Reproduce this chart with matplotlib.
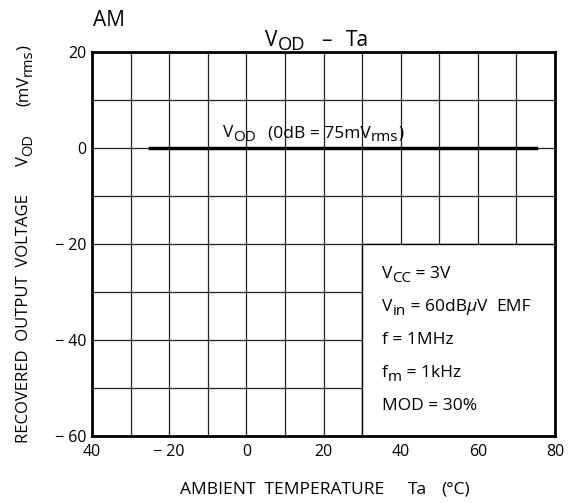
import matplotlib
matplotlib.use("Agg")
import matplotlib.pyplot as plt
from matplotlib.patches import Rectangle
from matplotlib.transforms import IdentityTransform

plt.rcParams['font.family'] = ['Open Sans', 'DejaVu Sans']

# data
temp = [-25, 75]
vod = [0, 0]
x_ticks = [-40, -20, 0, 20, 40, 60, 80]
x_tick_labels = ["40", "\u2212 20", "0", "20", "40", "60", "80"]
y_ticks = [20, 0, -20, -40, -60]
y_tick_labels = ["20", "0", "\u2212 20", "\u2212 40", "\u2212 60"]
# condition lines: (text, subscript?) pieces, numbers are gaps in px
conditions = [
    [("V", 0), ("CC", 1), (" = 3V", 0)],
    [("V", 0), ("in", 1), (" = 60dB", 0), ("\u03bc", 0, 'italic'), ("V", 0), 9, ("EMF", 0)],
    [("f = 1MHz", 0)],
    [("f", 0), ("m", 1), (" = 1kHz", 0)],
    [("MOD = 30%", 0)],
]
cond_base = [278, 311, 344, 377, 410]

W, H = 573, 503
fig = plt.figure(figsize=(W / 100, H / 100), dpi=100)
ax = fig.add_axes([92/W, 1-436/H, (555-92)/W, (436-52)/H])
renderer = fig.canvas.get_renderer()


def rich(px, py, parts, fs, rot=0, sub_scale=0.88, sub_drop=4):
    # px, py = start of baseline in image pixels (origin top-left)
    pos = 0.0
    for p in parts:
        if isinstance(p, (int, float)):
            pos += p
            continue
        s, sub = p[0], p[1]
        style = p[2] if len(p) > 2 else 'normal'
        size = fs * sub_scale if sub else fs
        drop = sub_drop if sub else 0
        if rot == 0:
            x, y = px + pos, H - py - drop
        else:
            x, y = px + drop, H - py + pos
        t = fig.text(x, y, s, fontsize=size, fontstyle=style, rotation=rot,
                     rotation_mode='anchor', ha='left', va='baseline',
                     transform=IdentityTransform(), zorder=5)
        bb = t.get_window_extent(renderer)
        pos += bb.width if rot == 0 else bb.height
    return pos


ax.set_xlim(-40, 80)
ax.set_ylim(-60, 20)
ax.set_xticks(range(-40, 81, 10), minor=True)
ax.set_yticks(range(-60, 21, 10), minor=True)
ax.set_xticks(x_ticks)
ax.set_xticklabels(x_tick_labels, fontsize=11.5)
ax.set_yticks(y_ticks)
ax.set_yticklabels(y_tick_labels, fontsize=11.5)
ax.tick_params(which='both', length=0)
ax.tick_params(axis='x', pad=5.5)
ax.tick_params(axis='y', pad=4)
ax.grid(which='both', color='#222222', linewidth=0.9)
ax.set_axisbelow(True)
for s in ax.spines.values():
    s.set_linewidth(2)

# condition box hides the grid
ax.add_patch(Rectangle((30, -60), 50, 40, facecolor='white', edgecolor='black',
                       linewidth=1.0, zorder=2))

ax.plot(temp, vod, color='black', linewidth=2.5, zorder=3)

rich(223, 137, [("V", 0), ("OD", 1), 12, ("(0dB = 75mV", 0), ("rms", 1), (")", 0)], 12.5)
for parts, yb in zip(conditions, cond_base):
    rich(382, yb, parts, 12.5)

rich(93, 26, [("AM", 0)], 15)
rich(265, 46, [("V", 0), ("OD", 1, ), 16, ("\u2013", 0), 14, ("Ta", 0)], 15, sub_drop=4)
rich(180, 494, [("AMBIENT  TEMPERATURE", 0), 24, ("Ta", 0), 14, ("(\u00b0C)", 0)], 12.5)
rich(28, 443, [("RECOVERED  OUTPUT  VOLTAGE", 0), 28, ("V", 0), ("OD", 1), 28,
               ("(mV", 0), ("rms", 1), (")", 0)], 12, rot=90)

fig.savefig("out.png", dpi=100)
